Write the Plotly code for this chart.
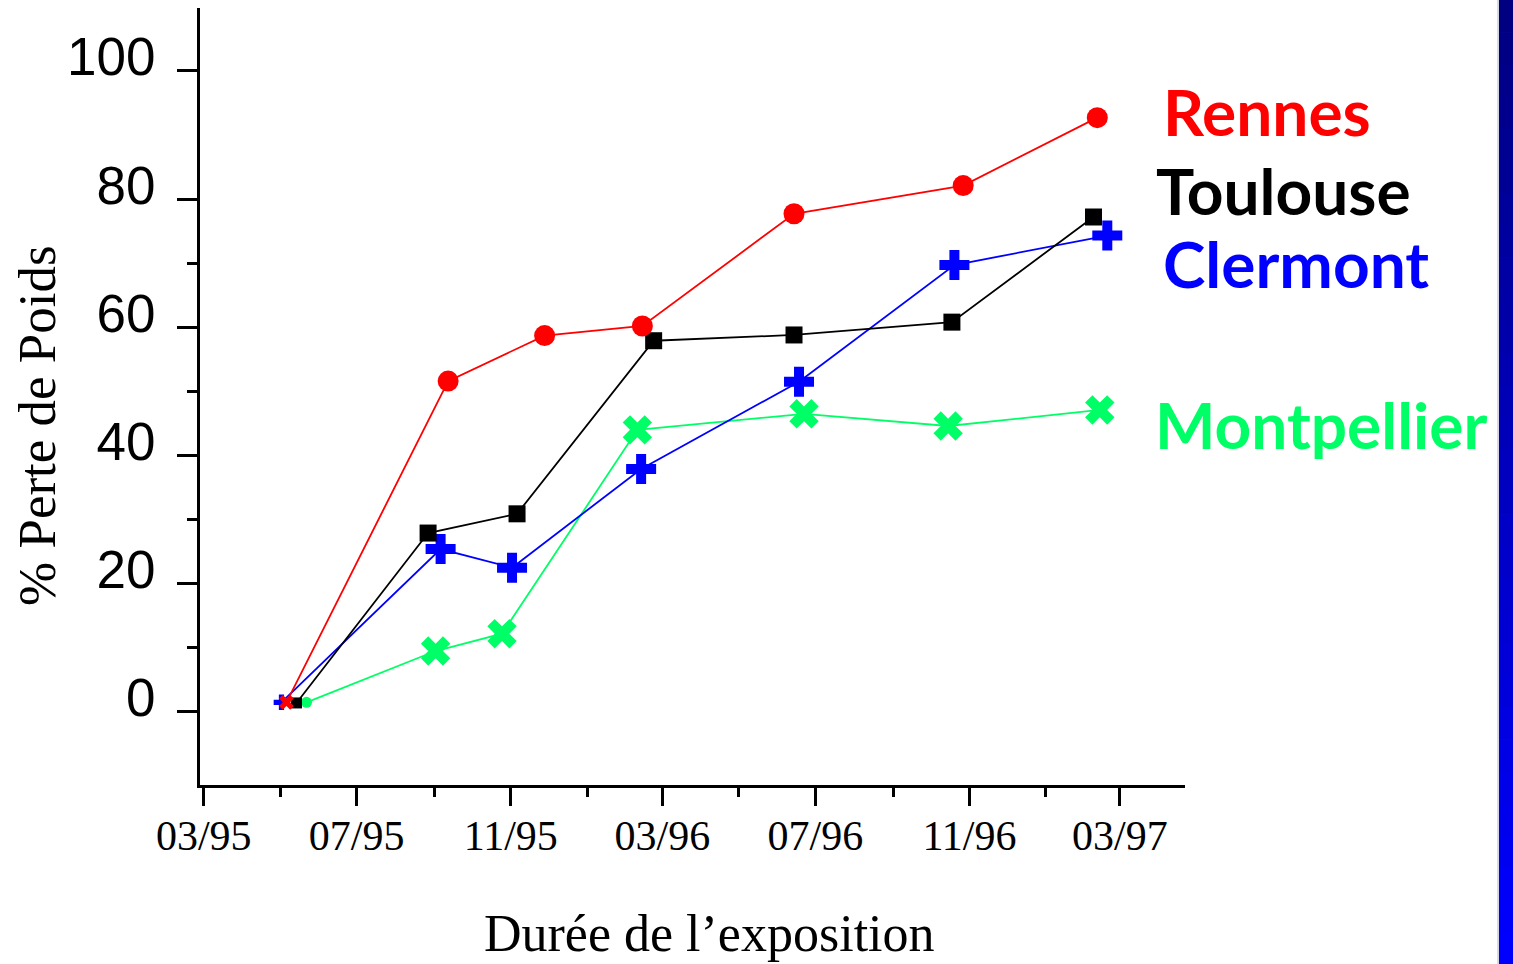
import plotly.graph_objects as go

# ---- data -------------------------------------------------------------
rennes_dates = ["1995-05-06", "1995-09-12", "1995-11-28", "1996-02-14",
                "1996-06-14", "1996-10-27", "1997-02-11"]
rennes_vals = [1.5, 51.6, 58.7, 60.2, 77.7, 82.1, 92.7]

toulouse_dates = ["1995-05-14", "1995-08-27", "1995-11-06", "1996-02-23",
                  "1996-06-14", "1996-10-18", "1997-02-08"]
toulouse_vals = [1.4, 27.9, 30.9, 57.9, 58.8, 60.8, 77.2]

clermont_dates = ["1995-05-02", "1995-09-06", "1995-11-02", "1996-02-13",
                  "1996-06-18", "1996-10-20", "1997-02-19"]
clermont_vals = [1.5, 25.4, 22.5, 37.9, 51.5, 69.7, 74.3]

montpellier_dates = ["1995-05-22", "1995-09-02", "1995-10-25", "1996-02-10",
                     "1996-06-22", "1996-10-15", "1997-02-13"]
montpellier_vals = [1.5, 9.5, 12.2, 44.0, 46.5, 44.6, 47.1]

x_tickvals = ["1995-03-01", "1995-07-01", "1995-11-01", "1996-03-01",
              "1996-07-01", "1996-11-01", "1997-03-01"]
x_ticktext = ["03/95", "07/95", "11/95", "03/96", "07/96", "11/96", "03/97"]
y_tickvals = [0, 20, 40, 60, 80, 100]
y_minor_tickvals = [10, 30, 50, 70]

series_names = ["Rennes", "Toulouse", "Clermont", "Montpellier"]
series_colors = ["#FF0000", "#000000", "#0000FF", "#00FF66"]

# ---- figure -----------------------------------------------------------
fig = go.Figure()

def add_series(dates, vals, name, color, first_sym, first_size, sym, size):
    n = len(vals)
    fig.add_trace(go.Scatter(
        x=dates, y=vals, name=name, mode="lines+markers",
        line=dict(color=color, width=1.8),
        marker=dict(color=color, opacity=1,
                    symbol=[first_sym] + [sym] * (n - 1),
                    size=[first_size] + [size] * (n - 1),
                    line=dict(width=0)),
        showlegend=False, cliponaxis=False,
    ))

add_series(montpellier_dates, montpellier_vals, "Montpellier", series_colors[3],
           "circle", 11, "x", 26)
add_series(clermont_dates, clermont_vals, "Clermont", series_colors[2],
           "cross", 13, "cross", 25)
add_series(toulouse_dates, toulouse_vals, "Toulouse", series_colors[1],
           "square", 11, "square", 17)
add_series(rennes_dates, rennes_vals, "Rennes", series_colors[0],
           "x", 13, "circle", 21)

# labels at right
label_pos = [(0.9756, 93.7), (0.9685, 81.3), (0.9756, 69.9), (0.9675, 44.9)]
for name, color, (lx, ly) in zip(series_names, series_colors, label_pos):
    fig.add_annotation(text=name, xref="paper", yref="y", x=lx, y=ly,
                       xanchor="left", yanchor="middle", showarrow=False,
                       font=dict(family="Comic Sans MS, Lato, sans-serif",
                                 size=64, color=color, weight="bold"))

# axis titles
fig.add_annotation(text="% Perte de Poids", xref="paper", yref="paper",
                   x=-0.1655, y=0.4633, textangle=-90, showarrow=False,
                   xanchor="center", yanchor="middle",
                   font=dict(family="Liberation Serif, Times New Roman, serif",
                             size=53, color="black"))
fig.add_annotation(text="Durée de l’exposition", xref="paper", yref="paper",
                   x=0.5168, y=-0.1905, showarrow=False,
                   xanchor="center", yanchor="middle",
                   font=dict(family="Liberation Serif, Times New Roman, serif",
                             size=52, color="black"))

# blue gradient bar at right edge
nseg = 30
y_top, y_bot = 1.0103, -0.2304
for i in range(nseg):
    t = i / (nseg - 1)
    r0 = y_top - (y_top - y_bot) * i / nseg
    r1 = y_top - (y_top - y_bot) * (i + 1) / nseg
    b = int(128 + (255 - 128) * t)
    fig.add_shape(type="rect", xref="paper", yref="paper",
                  x0=1.3188, x1=1.334, y0=r1 - 0.001, y1=r0,
                  fillcolor=f"rgb(0,0,{b})", line=dict(width=0), layer="above")
fig.add_shape(type="line", xref="paper", yref="paper", x0=1.3178, x1=1.3178,
              y0=y_bot, y1=y_top, line=dict(color="#B0B0C8", width=1))

fig.update_layout(
    width=1513, height=964,
    margin=dict(l=200, r=328, t=8, b=179),
    paper_bgcolor="white", plot_bgcolor="white",
    xaxis=dict(
        type="date",
        range=["1995-02-26", "1997-04-22"],
        tickvals=x_tickvals, ticktext=x_ticktext,
        ticks="outside", ticklen=18, tickwidth=2.5, tickcolor="black",
        minor=dict(dtick="M2", tick0="1995-03-01", ticks="outside",
                   ticklen=9, tickwidth=2.5, tickcolor="black"),
        showline=True, linecolor="black", linewidth=3,
        showgrid=False, zeroline=False,
        tickfont=dict(family="Liberation Serif, Times New Roman, serif",
                      size=42, color="black"),
        ticklabelstandoff=-6,
        automargin=False,
    ),
    yaxis=dict(
        range=[-11.4, 109.8],
        tickvals=y_tickvals,
        ticks="outside", ticklen=20, tickwidth=2.5, tickcolor="black",
        minor=dict(tickvals=y_minor_tickvals, ticks="outside", ticklen=10,
                   tickwidth=2.5, tickcolor="black"),
        showline=True, linecolor="black", linewidth=3,
        showgrid=False, zeroline=False,
        tickfont=dict(family="Liberation Sans, Arial, sans-serif",
                      size=53, color="black"),
        ticklabelstandoff=11,
        ticklabelshift=-14,
        automargin=False,
    ),
)

fig.write_html("out.html",
               config={"displayModeBar": False},
               post_script="document.body.style.margin='0';"
                           "document.body.style.overflow='hidden';")
